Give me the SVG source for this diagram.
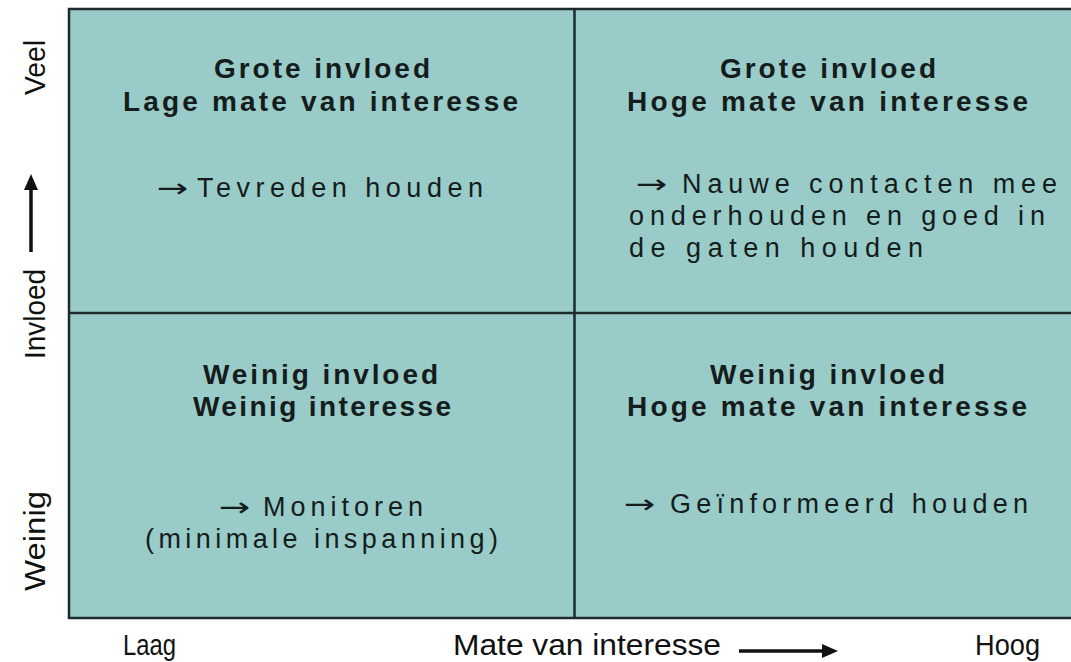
<svg xmlns="http://www.w3.org/2000/svg" width="1071" height="662" viewBox="0 0 1071 662">
  <style>
    .h { font-family: "Liberation Sans", Arial, sans-serif; font-weight: bold; font-size: 28px; fill: #141c1c; }
    .t { font-family: "Liberation Sans", Arial, sans-serif; font-size: 27px; fill: #141c1c; }
    .ar { font-family: "DejaVu Sans", sans-serif; font-size: 26px; fill: #141c1c; }
    .ax { font-family: "Liberation Sans Narrow", "Liberation Sans", Arial, sans-serif; font-size: 29px; fill: #111; }
    .cell { fill: #99cbc8; }
    .grid { stroke: #1c2b2b; stroke-width: 2.5; fill: none; }
    .conn { stroke: #111; stroke-width: 3.5; fill: none; }
  </style>
  <defs>
    <marker id="ah" viewBox="0 0 16 14" refX="2" refY="7" markerWidth="16" markerHeight="14" markerUnits="userSpaceOnUse" orient="auto">
      <path d="M0,0 L16,7 L0,14 z" fill="#111"/>
    </marker>
  </defs>
  <rect width="1071" height="662" fill="#ffffff"/>

  <g id="grid">
    <rect class="cell" x="69" y="9" width="1010" height="609"/>
    <path class="grid" d="M1080,9 H69 V618 H1080"/>
    <path class="grid" d="M574.5,9 V618 M69,313 H1080"/>
  </g>

  <g id="q-top-left">
    <text class="h" x="214" y="78" textLength="216" lengthAdjust="spacing">Grote invloed</text>
    <text class="h" x="123" y="111" textLength="395" lengthAdjust="spacing">Lage mate van interesse</text>
    <text class="ar" transform="translate(157,197) scale(1.45,1)">→</text>
    <text class="t" x="197" y="197" textLength="286" lengthAdjust="spacing">Tevreden houden</text>
  </g>

  <g id="q-top-right">
    <text class="h" x="720" y="78" textLength="216" lengthAdjust="spacing">Grote invloed</text>
    <text class="h" x="627" y="111" textLength="401" lengthAdjust="spacing">Hoge mate van interesse</text>
    <text class="ar" transform="translate(636,193) scale(1.45,1)">→</text>
    <text class="t" x="682" y="193" textLength="375" lengthAdjust="spacing">Nauwe contacten mee</text>
    <text class="t" x="629" y="225" textLength="416" lengthAdjust="spacing">onderhouden en goed in</text>
    <text class="t" x="629" y="257" textLength="294" lengthAdjust="spacing">de gaten houden</text>
  </g>

  <g id="q-bottom-left">
    <text class="h" x="203" y="384" textLength="235" lengthAdjust="spacing">Weinig invloed</text>
    <text class="h" x="193" y="416" textLength="258" lengthAdjust="spacing">Weinig interesse</text>
    <text class="ar" transform="translate(219,516) scale(1.45,1)">→</text>
    <text class="t" x="263" y="516" textLength="160" lengthAdjust="spacing">Monitoren</text>
    <text class="t" x="145" y="548" textLength="353" lengthAdjust="spacing">(minimale inspanning)</text>
  </g>

  <g id="q-bottom-right">
    <text class="h" x="710" y="384" textLength="235" lengthAdjust="spacing">Weinig invloed</text>
    <text class="h" x="627" y="416" textLength="400" lengthAdjust="spacing">Hoge mate van interesse</text>
    <text class="ar" transform="translate(624,513) scale(1.45,1)">→</text>
    <text class="t" x="670" y="513" textLength="358" lengthAdjust="spacing">Geïnformeerd houden</text>
  </g>

  <g id="axis-y">
    <text class="ax" transform="translate(45,95) rotate(-90)" textLength="55" lengthAdjust="spacingAndGlyphs">Veel</text>
    <text class="ax" transform="translate(45,359) rotate(-90)" textLength="90" lengthAdjust="spacingAndGlyphs">Invloed</text>
    <text class="ax" transform="translate(45,591) rotate(-90)" textLength="100" lengthAdjust="spacingAndGlyphs">Weinig</text>
  </g>

  <g id="axis-x">
    <text class="ax" x="123" y="655" textLength="53" lengthAdjust="spacingAndGlyphs">Laag</text>
    <text class="ax" x="453" y="655" textLength="268" lengthAdjust="spacingAndGlyphs">Mate van interesse</text>
    <text class="ax" x="975" y="655" textLength="65" lengthAdjust="spacingAndGlyphs">Hoog</text>
  </g>

  <g id="connectors">
    <line class="conn" x1="31" y1="252" x2="31" y2="188" marker-end="url(#ah)"/>
    <line class="conn" x1="739" y1="651" x2="824" y2="651" marker-end="url(#ah)"/>
  </g>
</svg>
